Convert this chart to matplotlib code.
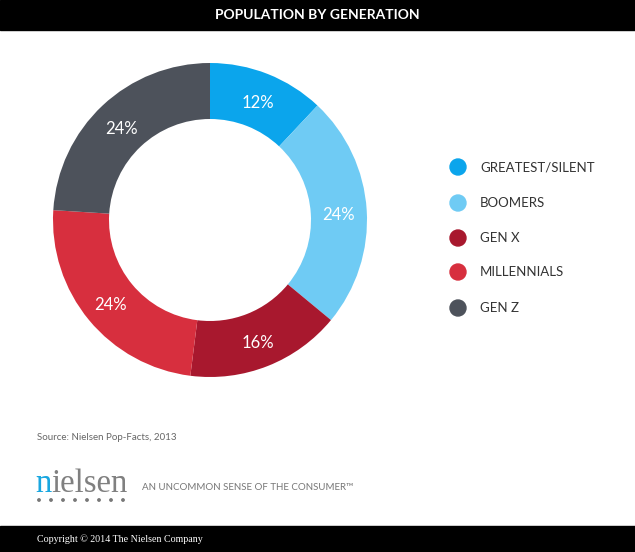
import matplotlib
matplotlib.use("Agg")
import matplotlib.pyplot as plt
import numpy as np
from matplotlib.patches import Rectangle, Circle

# data
generations = ["GREATEST/SILENT", "BOOMERS", "GEN X", "MILLENNIALS", "GEN Z"]
shares = [12, 24, 16, 24, 24]
colors = ["#0ba5ec", "#6fcbf4", "#a8182e", "#d72f3e", "#4d525b"]

W, H = 635, 552
fig = plt.figure(figsize=(W / 100, H / 100), dpi=100)
plt.rcParams["font.family"] = ["Lato", "DejaVu Sans"]

# background axis in pixel coordinates
bg = fig.add_axes([0, 0, 1, 1])
bg.set_xlim(0, W)
bg.set_ylim(H, 0)
bg.axis("off")

# header / footer bars
bg.add_patch(Rectangle((0, 0), W, 30, color="black"))
bg.add_patch(Rectangle((0, 526), W, H - 526, color="black"))
bg.text(W / 2, 15, "POPULATION BY GENERATION", color="white", fontsize=10,
        fontweight="bold", ha="center", va="center")
bg.text(37, 539, "Copyright © 2014 The Nielsen Company", color="white",
        fontsize=7.2, ha="left", va="center", family=["Liberation Serif"])

# donut
cx, cy, r_out, r_in = 210, 220, 157, 101
pie_ax = fig.add_axes([(cx - r_out) / W, (H - cy - r_out) / H,
                       2 * r_out / W, 2 * r_out / H])
pie_ax.pie(shares, colors=colors, startangle=90, counterclock=False, radius=1,
           wedgeprops=dict(width=(r_out - r_in) / r_out, linewidth=0))
pie_ax.set_xlim(-1, 1)
pie_ax.set_ylim(-1, 1)
pie_ax.set_aspect("equal")
pie_ax.axis("off")

ang = 90.0
rr = (1 + r_in / r_out) / 2
for val in shares:
    mid = ang - val * 3.6 / 2
    ang -= val * 3.6
    pie_ax.text(rr * np.cos(np.radians(mid)), rr * np.sin(np.radians(mid)) - 0.02,
                f"{val}%", color="white", fontsize=12, ha="center", va="center")

# legend
leg_y = [167, 203, 238, 272, 308]
for name, col, y in zip(generations, colors, leg_y):
    bg.add_patch(Circle((458, y), 8, color=col))
    bg.text(480, y, name, color="#333333", fontsize=9.5, ha="left", va="center")

# source + logo
bg.text(37, 437, "Source: Nielsen Pop-Facts, 2013", color="#666666", fontsize=7,
        ha="left", va="center")
n_txt = bg.text(35, 492, "n", color="#1aa7e0", fontsize=23.5, ha="left",
                va="baseline", family=["Liberation Serif"])
fig.canvas.draw()
bb = n_txt.get_window_extent()
x_next = bg.transData.inverted().transform((bb.x1, bb.y0))[0]
bg.text(x_next, 492, "ielsen", color="#808080", fontsize=23.5, ha="left",
        va="baseline", family=["Liberation Serif"])
for i in range(8):
    bg.add_patch(Circle((39 + i * 12, 500), 1.2, color="#777777"))
bg.text(142, 488, "AN UNCOMMON SENSE OF THE CONSUMER\u2122", color="#777777",
        fontsize=7, ha="left", va="center")

fig.savefig("out.png", dpi=100)
